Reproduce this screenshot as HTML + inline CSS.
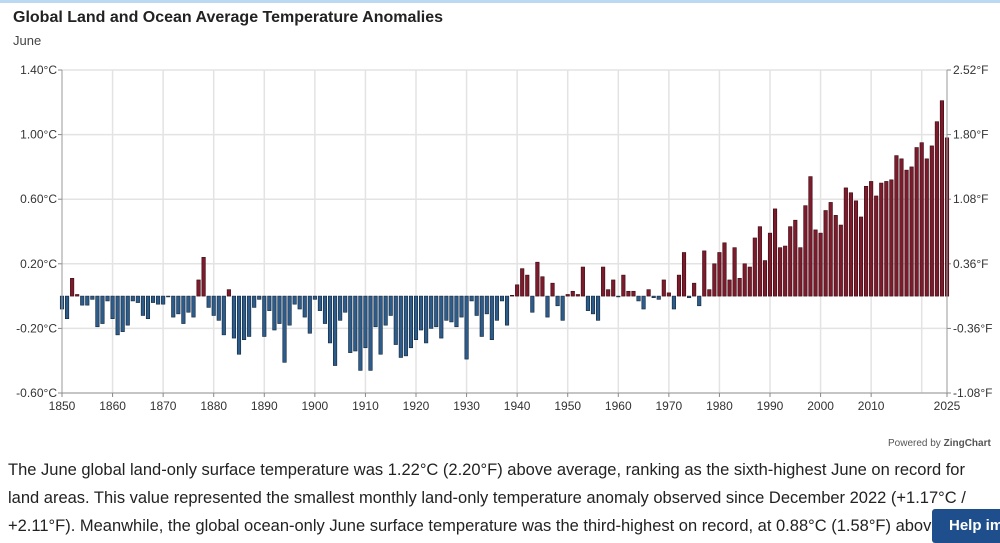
<!DOCTYPE html>
<html><head><meta charset="utf-8"><style>
body{margin:0;width:1000px;height:539px;overflow:hidden;background:#fff;font-family:"Liberation Sans",sans-serif;position:relative}
.topbar{position:absolute;left:0;top:0;width:1000px;height:3px;background:#bcd9f2}
h1{position:absolute;left:13px;top:9px;margin:0;font-size:16px;font-weight:bold;color:#222}
.sub{position:absolute;left:13px;top:33px;font-size:13px;color:#444}
.pw{position:absolute;left:888px;top:438px;font-size:10px;color:#555}
p{position:absolute;left:8px;top:456px;margin:0;width:990px;font-size:16.5px;line-height:28px;color:#222}
.help{position:absolute;left:932px;top:509px;width:80px;height:34px;background:#1f4e8c;color:#fff;font-weight:bold;font-size:15px;padding:8px 0 0 17px;box-sizing:border-box;border-radius:3px}
</style></head><body>
<div class="topbar"></div>
<h1>Global Land and Ocean Average Temperature Anomalies</h1>
<div class="sub">June</div>
<svg id="chart" width="1000" height="430" style="position:absolute;left:0;top:0"></svg>
<div class="pw">Powered by <b>ZingChart</b></div>
<p>The June global land-only surface temperature was 1.22°C (2.20°F) above average, ranking as the sixth-highest June on record for land areas. This value represented the smallest monthly land-only temperature anomaly observed since December 2022 (+1.17°C / +2.11°F). Meanwhile, the global ocean-only June surface temperature was the third-highest on record, at 0.88°C (1.58°F) above</p>
<div class="help">Help im</div>
<script>
const startYear=1850;
const anomalies=[-0.08,-0.14,0.11,0.01,-0.056,-0.056,-0.02,-0.19,-0.17,-0.03,
-0.14,-0.24,-0.22,-0.18,-0.03,-0.04,-0.12,-0.14,-0.04,-0.05,
-0.05,-0.005,-0.13,-0.11,-0.17,-0.10,-0.13,0.10,0.24,-0.07,
-0.12,-0.15,-0.24,0.04,-0.26,-0.36,-0.27,-0.25,-0.07,-0.02,
-0.25,-0.09,-0.21,-0.17,-0.41,-0.18,-0.05,-0.08,-0.13,-0.23,
-0.02,-0.09,-0.17,-0.29,-0.43,-0.15,-0.10,-0.35,-0.34,-0.46,
-0.32,-0.46,-0.19,-0.36,-0.18,-0.12,-0.30,-0.38,-0.37,-0.32,
-0.27,-0.21,-0.29,-0.20,-0.19,-0.26,-0.15,-0.16,-0.19,-0.13,
-0.39,-0.03,-0.12,-0.25,-0.11,-0.27,-0.15,-0.03,-0.18,0.005,
0.07,0.17,0.13,-0.10,0.21,0.12,-0.13,0.08,-0.06,-0.15,
0.01,0.03,0.01,0.18,-0.09,-0.11,-0.15,0.18,0.04,0.10,
-0.005,0.13,0.03,0.03,-0.03,-0.08,0.04,-0.01,-0.02,0.10,
0.02,-0.08,0.13,0.27,-0.01,0.08,-0.06,0.28,0.04,0.20,
0.27,0.33,0.10,0.30,0.11,0.20,0.18,0.36,0.43,0.22,
0.39,0.54,0.30,0.31,0.43,0.47,0.30,0.56,0.74,0.41,
0.39,0.53,0.58,0.50,0.44,0.67,0.64,0.59,0.49,0.68,
0.71,0.62,0.70,0.71,0.72,0.87,0.85,0.78,0.80,0.92,
0.95,0.85,0.93,1.08,1.21,0.98];
const cTicks=["1.40°C","1.00°C","0.60°C","0.20°C","-0.20°C","-0.60°C"];
const cTickVals=[1.4,1.0,0.6,0.2,-0.2,-0.6];
const fTicks=["2.52°F","1.80°F","1.08°F","0.36°F","-0.36°F","-1.08°F"];
const xTicks=[1850,1860,1870,1880,1890,1900,1910,1920,1930,1940,1950,1960,1970,1980,1990,2000,2010,2025];
const NS="http://www.w3.org/2000/svg",svg=document.getElementById('chart');
const X0=62,X1=947,Y0=70,Y1=393,VMAX=1.4,VMIN=-0.6,Y_END=2025;
const xs=y=>X0+(y-startYear)*(X1-X0)/(Y_END-startYear);
const ys=v=>Y0+(VMAX-v)*(Y1-Y0)/(VMAX-VMIN);
function mk(t,a,p){const e=document.createElementNS(NS,t);for(const k in a)e.setAttribute(k,a[k]);(p||svg).appendChild(e);return e;}
for(let d=1860;d<=2020;d+=10){const l=mk('line',{x1:xs(d),x2:xs(d),y1:Y0,y2:Y1,stroke:'#e3e3e3','stroke-width':1.5});

}
cTickVals.forEach((v,i)=>{
const g=mk('line',{x1:X0,x2:X1,y1:ys(v),y2:ys(v),stroke:'#e3e3e3','stroke-width':1.5});


const t=mk('text',{x:X0-5,y:ys(v)+4,'text-anchor':'end','font-size':12,fill:'#333'});t.textContent=cTicks[i];


const t2=mk('text',{x:X1+6,y:ys(v)+4,'font-size':12,fill:'#333'});t2.textContent=fTicks[i];


mk('line',{x1:X0-4,x2:X0,y1:ys(v),y2:ys(v),stroke:'#888'});
mk('line',{x1:X1,x2:X1+4,y1:ys(v),y2:ys(v),stroke:'#888'});
});
anomalies.forEach((v,i)=>{
const x=xs(startYear+i),y0=ys(0),y=ys(v);
const r=mk('rect',{x:x-1.75,y:Math.min(y,y0),width:3.5,height:Math.max(Math.abs(y-y0),0.8),fill:v>=0?'#7b1b2c':'#2d5b8a',stroke:v>=0?'#3a0a12':'#12263a','stroke-width':0.6});


});
mk('line',{x1:X0,x2:X0,y1:Y0,y2:Y1,stroke:'#999','stroke-width':1});
mk('line',{x1:X1,x2:X1,y1:Y0,y2:Y1,stroke:'#999','stroke-width':1});
mk('line',{x1:X0,x2:X1,y1:Y1,y2:Y1,stroke:'#999','stroke-width':1});
xTicks.forEach(yr=>{
mk('line',{x1:xs(yr),x2:xs(yr),y1:Y1,y2:Y1+4,stroke:'#888'});
const t=mk('text',{x:xs(yr),y:Y1+17,'text-anchor':'middle','font-size':12,fill:'#333'});t.textContent=yr;


});
</script>
</body></html>
